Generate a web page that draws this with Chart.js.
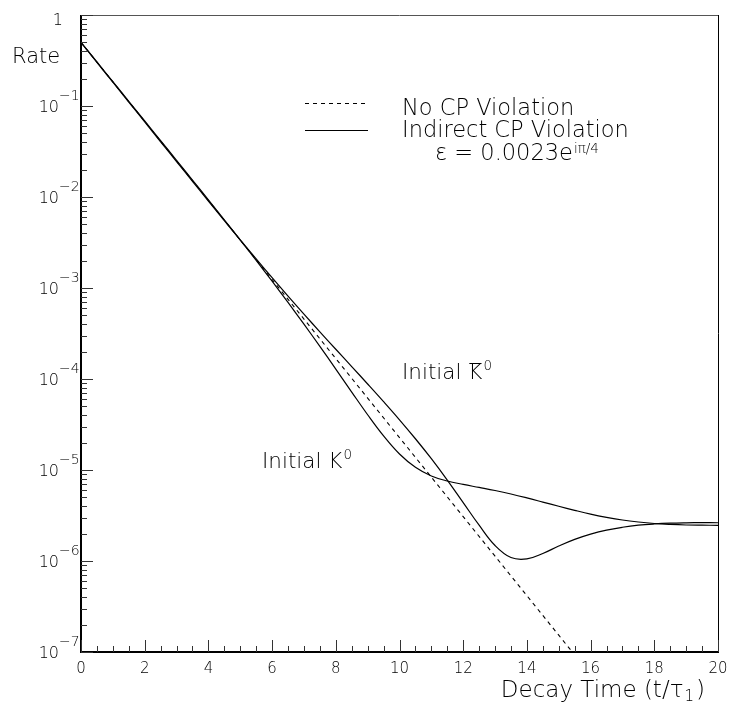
<!DOCTYPE html>
<html><head><meta charset="utf-8">
<script src="https://cdn.jsdelivr.net/npm/chart.js@4.4.0/dist/chart.umd.min.js"></script>
<style>html,body{margin:0;padding:0;background:#fff}#wrap{width:732px;height:712px;position:relative}</style>
</head><body><div id="wrap"><canvas id="c"></canvas></div>
<script>
// Decay time in units of tau_1
const timeValues = [0,0.5,1,1.5,2,2.5,3,3.5,4,4.5,5,5.5,6,6.5,7,7.5,8,8.5,9,9.5,10,10.5,11,11.5,12,12.5,13,13.5,14,14.5,15,15.5,16,16.5,17,17.5,18,18.5,19,19.5,20];
// Initial K0-bar (solid, upper curve at t~8, dip near t~14)
const kbarRate = [0.4984,0.3017,0.1826,0.1105,0.06682,0.04044,0.02449,0.01485,0.00903,0.005507,0.003377,0.002085,0.001298,8.144e-4,5.164e-4,3.300e-4,2.123e-4,1.369e-4,8.815e-5,5.638e-5,3.562e-5,2.205e-5,1.330e-5,7.748e-6,4.379e-6,2.474e-6,1.480e-6,1.091e-6,1.054e-6,1.210e-6,1.461e-6,1.729e-6,1.974e-6,2.187e-6,2.349e-6,2.473e-6,2.553e-6,2.605e-6,2.629e-6,2.639e-6,2.633e-6];
// Initial K0 (solid, lower curve at t~8, flattens after t~11)
const k0Rate = [0.5016,0.3048,0.1853,0.1126,0.06849,0.04165,0.02531,0.01536,0.00930,0.005608,0.003366,0.002007,0.001187,6.938e-4,4.007e-4,2.283e-4,1.285e-4,7.185e-5,4.045e-5,2.368e-5,1.498e-5,1.070e-5,8.595e-6,7.572e-6,6.945e-6,6.434e-6,5.950e-6,5.450e-6,4.938e-6,4.444e-6,3.995e-6,3.607e-6,3.278e-6,3.022e-6,2.822e-6,2.682e-6,2.583e-6,2.524e-6,2.487e-6,2.474e-6,2.469e-6];
// No CP violation (dashed)
const noCpTime = [0,1,2,3,4,5,6,7,8,9,10,11,12,13,14,15,16];
const noCpRate = [0.5,0.18394,0.06767,0.024894,0.0091578,0.003369,0.0012394,4.5594e-4,1.6773e-4,6.1705e-5,2.27e-5,8.35e-6,3.072e-6,1.13e-6,4.158e-7,1.5296e-7,5.627e-8];
// Axis ticks
const xTickLabels = ['0','2','4','6','8','10','12','14','16','18','20'];
const yTickExponents = [0,-1,-2,-3,-4,-5,-6,-7];
const legendLabels = ['No CP Violation','Indirect CP Violation'];
const epsilonLabel = 'ε = 0.0023e';
const epsilonSup = 'iπ/4';
const xTitle = 'Decay Time (t/τ';
const yTitle = 'Rate';

const FAM = '"DejaVu Sans", "Liberation Sans", sans-serif';
const W = '200';
function font(sz){ return W + ' ' + sz + 'px ' + FAM; }

function pts(xs, ys){ return xs.map((t,i)=>({x:t, y:ys[i]})); }

const decor = {
  id: 'decor',
  afterDraw(chart){
    const {ctx, chartArea:a, scales:{x, y}} = chart;
    ctx.save();
    ctx.fillStyle = '#000';
    ctx.strokeStyle = '#000';
    // frame
    ctx.lineWidth = 1;
    ctx.strokeStyle = '#555';
    ctx.beginPath(); ctx.moveTo(a.left, a.top + 0.5); ctx.lineTo(a.right, a.top + 0.5); ctx.stroke();
    ctx.strokeStyle = '#000';
    ctx.beginPath(); ctx.moveTo(a.right + 0.5, a.top); ctx.lineTo(a.right + 0.5, a.bottom); ctx.stroke();
    ctx.lineWidth = 2;
    ctx.beginPath(); ctx.moveTo(a.left, a.top); ctx.lineTo(a.left, a.bottom); ctx.lineTo(a.right + 1, a.bottom); ctx.stroke();
    // x ticks
    ctx.lineWidth = 1;
    ctx.strokeStyle = '#333';
    for (let k = 0; k <= 40; k++){
      const t = k / 2;
      const px = Math.round(x.getPixelForValue(t)) + 0.5;
      const len = (k % 4 === 0) ? 12 : 6;
      ctx.beginPath(); ctx.moveTo(px, a.bottom); ctx.lineTo(px, a.bottom - len); ctx.stroke();
    }
    // y ticks
    yTickExponents.forEach(e => {
      const py = Math.round(y.getPixelForValue(Math.pow(10, e))) + 0.5;
      ctx.beginPath(); ctx.moveTo(a.left, py); ctx.lineTo(a.left + 12, py); ctx.stroke();
      if (e < 0) {
        for (let m = 2; m <= 9; m++){
          const pm = Math.round(y.getPixelForValue(m * Math.pow(10, e))) + 0.5;
          ctx.beginPath(); ctx.moveTo(a.left, pm); ctx.lineTo(a.left + 6, pm); ctx.stroke();
        }
      }
    });
    // x labels
    ctx.fillStyle = '#000';
    ctx.font = font(15);
    ctx.textAlign = 'center'; ctx.textBaseline = 'alphabetic';
    xTickLabels.forEach(l => {
      const px = x.getPixelForValue(parseFloat(l));
      ctx.fillText(l, px, a.bottom + 21);
    });
    // y labels
    yTickExponents.forEach(e => {
      const py = y.getPixelForValue(Math.pow(10, e));
      if (e === 0) {
        ctx.font = font(16); ctx.textAlign = 'right';
        ctx.fillText('1', a.left - 18, py + 10);
      } else {
        ctx.font = font(16); ctx.textAlign = 'right';
        ctx.fillText('10', a.left - 22, py + 6);
        ctx.font = font(14); ctx.textAlign = 'left';
        ctx.fillText('\u2212' + String(-e), a.left - 22, py - 6);
      }
    });
    // axis titles
    ctx.font = font(21); ctx.textAlign = 'left';
    ctx.fillText(yTitle, 12, 63);
    ctx.font = font(23);
    const titleW = ctx.measureText(xTitle).width;
    const parW = ctx.measureText(')').width;
    ctx.font = font(15);
    const subW = ctx.measureText('1').width;
    const tx0 = 705 - parW - subW - titleW - 3;
    ctx.font = font(23);
    ctx.fillText(xTitle, tx0, 697);
    ctx.font = font(15);
    ctx.fillText('1', tx0 + titleW + 1, 701);
    ctx.font = font(23);
    ctx.fillText(')', tx0 + titleW + subW + 3, 697);
    // legend
    ctx.strokeStyle = '#000'; ctx.lineWidth = 1;
    ctx.setLineDash([4, 4]);
    ctx.beginPath(); ctx.moveTo(305, 103.5); ctx.lineTo(368, 103.5); ctx.stroke();
    ctx.setLineDash([]);
    ctx.beginPath(); ctx.moveTo(305, 130.5); ctx.lineTo(368, 130.5); ctx.stroke();
    ctx.font = font(22.5);
    ctx.fillText(legendLabels[0], 402, 115);
    ctx.fillText(legendLabels[1], 402, 137);
    ctx.fillText(epsilonLabel, 435, 160);
    const epsW = ctx.measureText(epsilonLabel).width;
    ctx.font = font(13.5);
    ctx.fillText(epsilonSup, 435 + epsW + 1, 153);
    // annotations
    ctx.font = font(21.5);
    const pre = 'Initial ';
    const preW = ctx.measureText(pre).width;
    const kW = ctx.measureText('K').width;
    ctx.fillText(pre + 'K', 402, 379);
    ctx.font = font(13.5);
    ctx.fillText('0', 402 + preW + kW + 1, 370);
    ctx.lineWidth = 1;
    ctx.beginPath(); ctx.moveTo(402 + preW + 1, 363.5); ctx.lineTo(402 + preW + kW - 1, 363.5); ctx.stroke();
    ctx.font = font(21.5);
    ctx.fillText(pre + 'K', 262, 468);
    ctx.font = font(13.5);
    ctx.fillText('0', 262 + preW + kW + 1, 459);
    ctx.restore();
  }
};

new Chart(document.getElementById('c'), {
  type: 'line',
  data: {
    datasets: [
      { label: legendLabels[0], data: pts(noCpTime, noCpRate), borderColor: '#000', borderWidth: 1.1, borderDash: [4, 4], pointRadius: 0, fill: false, tension: 0 },
      { label: 'Initial K0bar', data: pts(timeValues, kbarRate), borderColor: '#000', borderWidth: 1.2, pointRadius: 0, fill: false, tension: 0.4 },
      { label: 'Initial K0', data: pts(timeValues, k0Rate), borderColor: '#000', borderWidth: 1.2, pointRadius: 0, fill: false, tension: 0.4 }
    ]
  },
  options: {
    responsive: true, maintainAspectRatio: false, animation: false,
    layout: { padding: { left: 81, top: 15, right: 14, bottom: 60 } },
    plugins: { legend: { display: false }, tooltip: { enabled: false } },
    scales: {
      x: { type: 'linear', min: 0, max: 20, display: false },
      y: { type: 'logarithmic', min: 1e-7, max: 1, display: false }
    }
  },
  plugins: [decor]
});
</script></body></html>
